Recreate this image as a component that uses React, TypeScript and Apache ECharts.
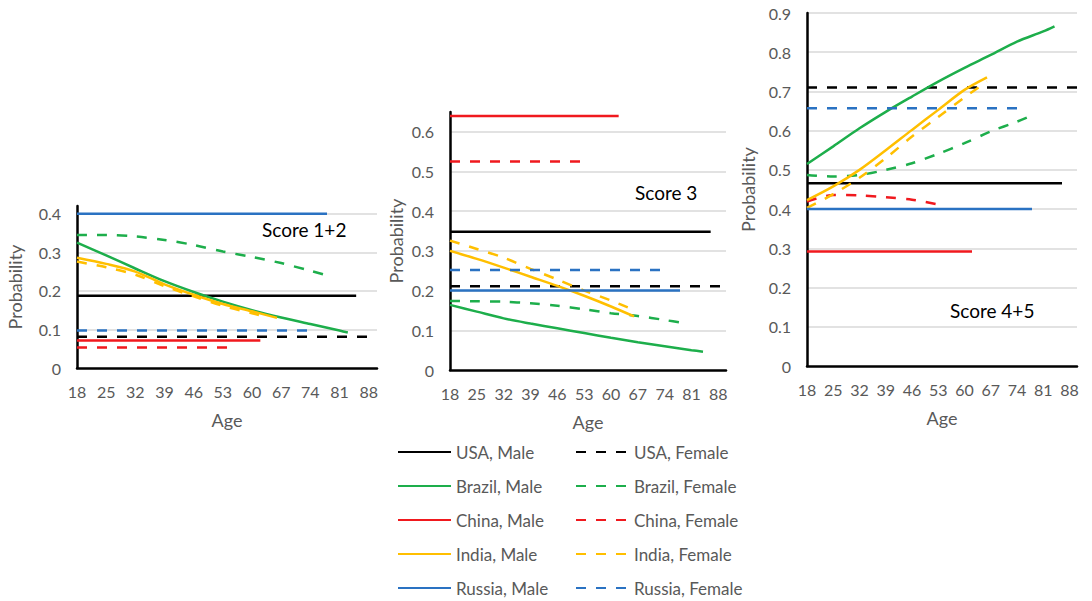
import React, { useEffect, useRef } from "react";
import * as echarts from "echarts";

const AGE0 = 18;
const X_MAX = 72; // axis end, in years after AGE0
const PANEL_TITLES = ["Score 1+2", "Score 3", "Score 4+5"];
const Y_MAX = [0.42, 0.65, 0.9];

const SERIES_NAMES = [
  "USA, Male", "USA, Female",
  "Brazil, Male", "Brazil, Female",
  "China, Male", "China, Female",
  "India, Male", "India, Female",
  "Russia, Male", "Russia, Female",
];
const COLORS = ["#000000", "#000000", "#1DAE4B", "#1DAE4B", "#F0191E", "#F0191E", "#FFBF00", "#FFBF00", "#2A72C2", "#2A72C2"];
const DASHED = [false, true, false, true, false, true, false, true, false, true];

// ---- Score 1+2 ----
const s12_usaM_age = [18, 85]; const s12_usaM = [0.187, 0.187];
const s12_usaF_age = [18, 90]; const s12_usaF = [0.081, 0.081];
const s12_brM_age = [18, 25, 32, 39, 46, 53, 60, 67, 74, 81, 83];
const s12_brM = [0.325, 0.292, 0.258, 0.225, 0.197, 0.172, 0.15, 0.131, 0.114, 0.097, 0.092];
const s12_brF_age = [18, 25, 32, 39, 46, 53, 60, 67, 74, 79];
const s12_brF = [0.345, 0.345, 0.341, 0.332, 0.319, 0.302, 0.288, 0.272, 0.252, 0.237];
const s12_cnM_age = [18, 62]; const s12_cnM = [0.071, 0.071];
const s12_cnF_age = [18, 55]; const s12_cnF = [0.053, 0.053];
const s12_inM_age = [18, 25, 32, 39, 46, 53, 60, 66];
const s12_inM = [0.286, 0.27, 0.25, 0.217, 0.19, 0.166, 0.147, 0.13];
const s12_inF_age = [18, 25, 32, 39, 46, 53, 60, 64];
const s12_inF = [0.276, 0.261, 0.242, 0.212, 0.186, 0.161, 0.142, 0.131];
const s12_ruM_age = [18, 78]; const s12_ruM = [0.4, 0.4];
const s12_ruF_age = [18, 75]; const s12_ruF = [0.097, 0.097];

// ---- Score 3 ----
const s3_usaM_age = [18, 86]; const s3_usaM = [0.348, 0.348];
const s3_usaF_age = [18, 90]; const s3_usaF = [0.211, 0.211];
const s3_brM_age = [18, 25, 32, 39, 46, 53, 60, 67, 74, 81, 84];
const s3_brM = [0.164, 0.147, 0.13, 0.117, 0.105, 0.093, 0.081, 0.07, 0.06, 0.05, 0.046];
const s3_brF_age = [18, 25, 32, 39, 46, 53, 60, 67, 74, 79];
const s3_brF = [0.174, 0.173, 0.172, 0.168, 0.162, 0.153, 0.143, 0.136, 0.126, 0.118];
const s3_cnM_age = [18, 62]; const s3_cnM = [0.64, 0.64];
const s3_cnF_age = [18, 54]; const s3_cnF = [0.525, 0.525];
const s3_inM_age = [18, 25, 32, 39, 46, 53, 60, 66];
const s3_inM = [0.3, 0.28, 0.258, 0.235, 0.212, 0.187, 0.16, 0.135];
const s3_inF_age = [18, 25, 32, 39, 46, 53, 60, 65];
const s3_inF = [0.326, 0.305, 0.283, 0.255, 0.228, 0.2, 0.175, 0.155];
const s3_ruM_age = [18, 78]; const s3_ruM = [0.2, 0.2];
const s3_ruF_age = [18, 75]; const s3_ruF = [0.252, 0.252];

// ---- Score 4+5 ----
const s45_usaM_age = [18, 86]; const s45_usaM = [0.466, 0.466];
const s45_usaF_age = [18, 90]; const s45_usaF = [0.71, 0.71];
const s45_brM_age = [18, 25, 32, 39, 46, 53, 60, 67, 74, 81, 84];
const s45_brM = [0.515, 0.56, 0.606, 0.648, 0.687, 0.725, 0.76, 0.793, 0.827, 0.853, 0.866];
const s45_brF_age = [18, 25, 32, 39, 46, 53, 60, 67, 74, 79];
const s45_brF = [0.487, 0.483, 0.487, 0.5, 0.517, 0.541, 0.568, 0.598, 0.623, 0.643];
const s45_cnM_age = [18, 62]; const s45_cnM = [0.292, 0.292];
const s45_cnF_age = [18, 25, 32, 39, 46, 54];
const s45_cnF = [0.419, 0.436, 0.435, 0.43, 0.424, 0.41];
const s45_inM_age = [18, 25, 32, 39, 46, 53, 60, 66];
const s45_inM = [0.423, 0.458, 0.5, 0.55, 0.602, 0.653, 0.704, 0.736];
const s45_inF_age = [18, 25, 32, 39, 46, 53, 60, 66];
const s45_inF = [0.403, 0.438, 0.48, 0.53, 0.585, 0.635, 0.685, 0.725];
const s45_ruM_age = [18, 78]; const s45_ruM = [0.4, 0.4];
const s45_ruF_age = [18, 75]; const s45_ruF = [0.657, 0.657];

const PANELS: [number[], number[]][][] = [
  [
    [s12_usaM_age, s12_usaM], [s12_usaF_age, s12_usaF], [s12_brM_age, s12_brM], [s12_brF_age, s12_brF],
    [s12_cnM_age, s12_cnM], [s12_cnF_age, s12_cnF], [s12_inM_age, s12_inM], [s12_inF_age, s12_inF],
    [s12_ruM_age, s12_ruM], [s12_ruF_age, s12_ruF],
  ],
  [
    [s3_usaM_age, s3_usaM], [s3_usaF_age, s3_usaF], [s3_brM_age, s3_brM], [s3_brF_age, s3_brF],
    [s3_cnM_age, s3_cnM], [s3_cnF_age, s3_cnF], [s3_inM_age, s3_inM], [s3_inF_age, s3_inF],
    [s3_ruM_age, s3_ruM], [s3_ruF_age, s3_ruF],
  ],
  [
    [s45_usaM_age, s45_usaM], [s45_usaF_age, s45_usaF], [s45_brM_age, s45_brM], [s45_brF_age, s45_brF],
    [s45_cnM_age, s45_cnM], [s45_cnF_age, s45_cnF], [s45_inM_age, s45_inM], [s45_inF_age, s45_inF],
    [s45_ruM_age, s45_ruM], [s45_ruF_age, s45_ruF],
  ],
];

const FONT = "Lato, 'Open Sans', sans-serif";
const GREY = "#595959";

export default function App() {
  const ref = useRef<HTMLDivElement>(null);
  useEffect(() => {
    if (!ref.current) return;
    const chart = echarts.init(ref.current, null, { renderer: "svg" });

    const grids = [
      { left: 77, top: 206, width: 300, height: 162 },
      { left: 450, top: 112, width: 276, height: 258 },
      { left: 807, top: 13, width: 270, height: 353 },
    ];
    const yNameGap = [53, 45, 50];

    const xAxes = grids.map((_, i) => ({
      type: "value",
      gridIndex: i,
      min: 0,
      max: X_MAX,
      interval: 7,
      axisLine: { show: true, lineStyle: { color: "#000", width: 2.5 } },
      axisTick: { show: false },
      splitLine: { show: false },
      axisLabel: {
        color: GREY,
        fontSize: 16,
        fontFamily: FONT,
        margin: 15,
        showMaxLabel: true,
        formatter: (v: number) => (Math.abs(v % 7) < 1e-9 ? String(Math.round(v) + AGE0) : ""),
      },
      name: "Age",
      nameLocation: "middle",
      nameGap: 43,
      nameTextStyle: { color: GREY, fontSize: 18, fontFamily: FONT },
    }));

    const yAxes = grids.map((_, i) => ({
      type: "value",
      gridIndex: i,
      min: 0,
      max: Y_MAX[i],
      interval: 0.1,
      axisLine: { show: true, lineStyle: { color: "#000", width: 2.5 } },
      axisTick: { show: false },
      splitLine: {
        show: true,
        showMinLine: false,
        showMaxLine: i === 2,
        lineStyle: { color: "#D9D9D9", width: 1.5 },
      },
      axisLabel: {
        color: GREY,
        fontSize: 16,
        fontFamily: FONT,
        margin: 16,
        formatter: (v: number) => {
          const r = Math.round(v * 10) / 10;
          return Math.abs(r - v) < 1e-6 ? String(r) : "";
        },
      },
      name: "Probability",
      nameLocation: "middle",
      nameGap: yNameGap[i],
      nameTextStyle: { color: GREY, fontSize: 18, fontFamily: FONT },
    }));

    const series: any[] = [];
    PANELS.forEach((panel, pi) => {
      panel.forEach(([ages, vals], si) => {
        series.push({
          type: "line",
          name: SERIES_NAMES[si],
          xAxisIndex: pi,
          yAxisIndex: pi,
          data: ages.map((a, k) => [a - AGE0, vals[k]]),
          symbol: "none",
          smooth: ages.length > 2 ? 0.3 : false,
          color: COLORS[si],
          lineStyle: {
            color: COLORS[si],
            width: 2.5,
            type: DASHED[si] ? [10, 10] : "solid",
          },
          z: 3,
        });
      });
    });

    const legendCommon = {
      orient: "vertical",
      top: 442,
      height: 160,
      padding: 0,
      itemWidth: 53,
      itemHeight: 20,
      itemGap: 14,
      selectedMode: false,
      itemStyle: { opacity: 0 },
      textStyle: { color: GREY, fontSize: 17, fontFamily: FONT, lineHeight: 20 },
    };

    const option = {
      animation: false,
      grid: grids,
      xAxis: xAxes,
      yAxis: yAxes,
      legend: [
        { ...legendCommon, left: 397, data: SERIES_NAMES.filter((_, i) => !DASHED[i]) },
        { ...legendCommon, left: 575, data: SERIES_NAMES.filter((_, i) => DASHED[i]) },
      ],
      graphic: [
        { type: "text", left: 262, top: 220, style: { text: PANEL_TITLES[0], fill: "#000", fontSize: 19, fontFamily: FONT } },
        { type: "text", left: 635, top: 183, style: { text: PANEL_TITLES[1], fill: "#000", fontSize: 19, fontFamily: FONT } },
        { type: "text", left: 950, top: 301, style: { text: PANEL_TITLES[2], fill: "#000", fontSize: 19, fontFamily: FONT } },
      ],
      series,
    };
    chart.setOption(option as any);
    return () => chart.dispose();
  }, []);

  return (
    <div
      ref={ref}
      style={{ position: "absolute", left: 0, top: 0, width: 1092, height: 601, background: "#fff" }}
    />
  );
}
